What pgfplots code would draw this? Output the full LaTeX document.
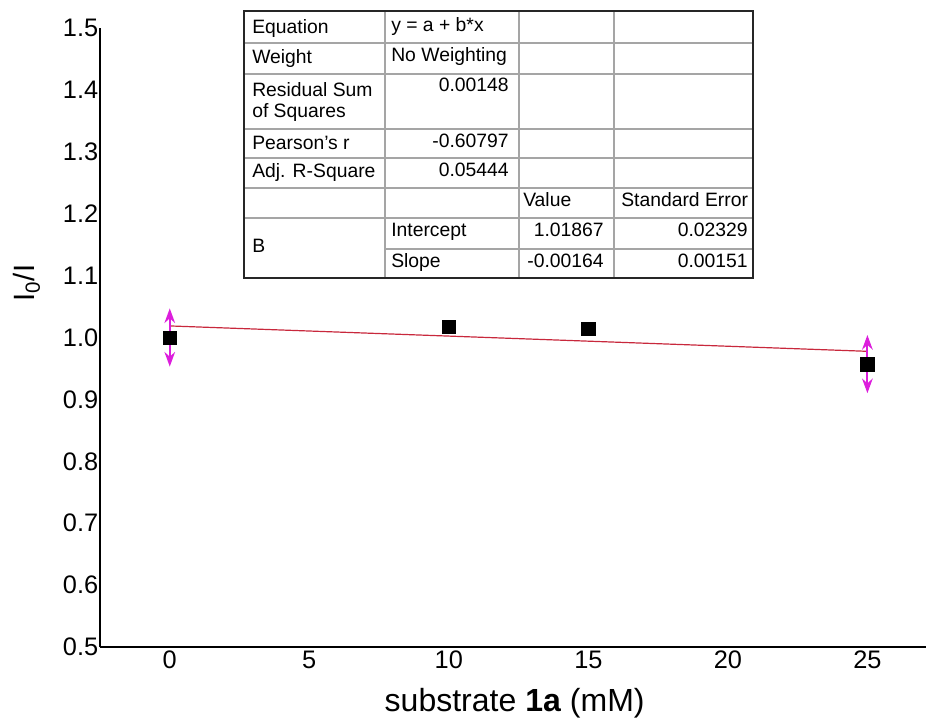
\documentclass[border=0pt]{standalone}
\usepackage{fontspec}
\setmainfont{Liberation Sans}
\usepackage{pgfplots}
\pgfplotsset{compat=1.18}
\usetikzlibrary{arrows.meta}
\definecolor{fitred}{RGB}{200,40,60}
\definecolor{errmag}{RGB}{220,30,220}
\definecolor{gridgray}{RGB}{165,165,165}
\begin{document}
\begin{tikzpicture}
\begin{axis}[name=ax, scale only axis, width=619.5pt, height=464.25pt,
  xmin=-2.5, xmax=27.1, ymin=0.5, ymax=1.5,
  axis x line=bottom, axis y line=left,
  axis line style={line width=2pt,-},
  xtick={0,5,10,15,20,25},
  ytick={0.5,0.6,0.7,0.8,0.9,1.0,1.1,1.2,1.3,1.4,1.5},
  major tick length=0pt,
  tick label style={font=\fontsize{19}{21}\selectfont},
  /pgf/number format/assume math mode=true,
  yticklabel style={/pgf/number format/.cd, fixed, fixed zerofill, precision=1, /tikz/.cd, inner sep=0pt, xshift=-1.2pt},
  xticklabel style={inner sep=0pt, yshift=-3pt},
  xlabel={substrate \textbf{1a} (mM)},
  xlabel style={at={(axis description cs:0.502,-0.105)}, anchor=base, font=\fontsize{24}{26}\selectfont},
  ylabel={I\textsubscript{0}/I},
  ylabel style={at={(axis description cs:-0.0787,0.588)}, anchor=base, font=\fontsize{22}{24}\selectfont},
  clip=false]
% linear fit
\addplot[fitred, line width=0.9pt] coordinates {(0,1.01867) (25,0.97767)};
% data points
\addplot[only marks, mark=square*, mark size=5pt, black] coordinates {
  (0,1.000) (10,1.017) (15,1.014) (25,0.957)};
% error bars
\addplot[errmag, line width=1.4pt, {Stealth[length=11pt,width=8pt]}-{Stealth[length=11pt,width=8pt]}] coordinates {(0,0.953) (0,1.047)};
\addplot[errmag, line width=1.4pt, {Stealth[length=11pt,width=8pt]}-{Stealth[length=11pt,width=8pt]}] coordinates {(25,0.910) (25,1.004)};
\end{axis}
% table in pixel coordinates of the reference
\begin{scope}[x=0.75pt, y=-0.75pt, shift={(ax.south west)}, shift={(-100,-647)},
  font=\fontsize{14.5}{16}\selectfont]
  \path (0,0) rectangle (931,721);
  \fill[white] (244,11) rectangle (753,278);
  % inner grid
  \begin{scope}[gridgray, line width=0.8pt]
    \draw (385,11) -- (385,278);
    \draw (519,11) -- (519,278);
    \draw (614,11) -- (614,278);
    \foreach \yy in {43,74,129,158,188,218} \draw (244,\yy) -- (753,\yy);
    \draw (385,249) -- (753,249);
  \end{scope}
  \draw[black!85, line width=1.4pt] (244,11) rectangle (753,278);
  % column 1
  \node[anchor=base west, inner sep=0pt] at (252,34) {Equation};
  \node[anchor=base west, inner sep=0pt] at (252,64) {Weight};
  \node[anchor=base west, inner sep=0pt] at (252,97) {Residual Sum};
  \node[anchor=base west, inner sep=0pt] at (252,118) {of Squares};
  \node[anchor=base west, inner sep=0pt] at (252,150) {Pearson's r};
  \node[anchor=base west, inner sep=0pt] at (252,178) {Adj. R-Square};
  \node[anchor=base west, inner sep=0pt] at (252,253) {B};
  % column 2
  \node[anchor=base west, inner sep=0pt] at (391,32) {y = a + b*x};
  \node[anchor=base west, inner sep=0pt] at (391,62) {No Weighting};
  \node[anchor=base east, inner sep=0pt] at (509,92) {0.00148};
  \node[anchor=base east, inner sep=0pt] at (509,148) {-0.60797};
  \node[anchor=base east, inner sep=0pt] at (509,177) {0.05444};
  \node[anchor=base west, inner sep=0pt] at (391,237) {Intercept};
  \node[anchor=base west, inner sep=0pt] at (391,268) {Slope};
  % column 3
  \node[anchor=base west, inner sep=0pt] at (523,207) {Value};
  \node[anchor=base east, inner sep=0pt] at (604,237) {1.01867};
  \node[anchor=base east, inner sep=0pt] at (604,268) {-0.00164};
  % column 4
  \node[anchor=base west, inner sep=0pt] at (621,207) {Standard Error};
  \node[anchor=base east, inner sep=0pt] at (748,237) {0.02329};
  \node[anchor=base east, inner sep=0pt] at (748,268) {0.00151};
\end{scope}
\end{tikzpicture}
\end{document}
